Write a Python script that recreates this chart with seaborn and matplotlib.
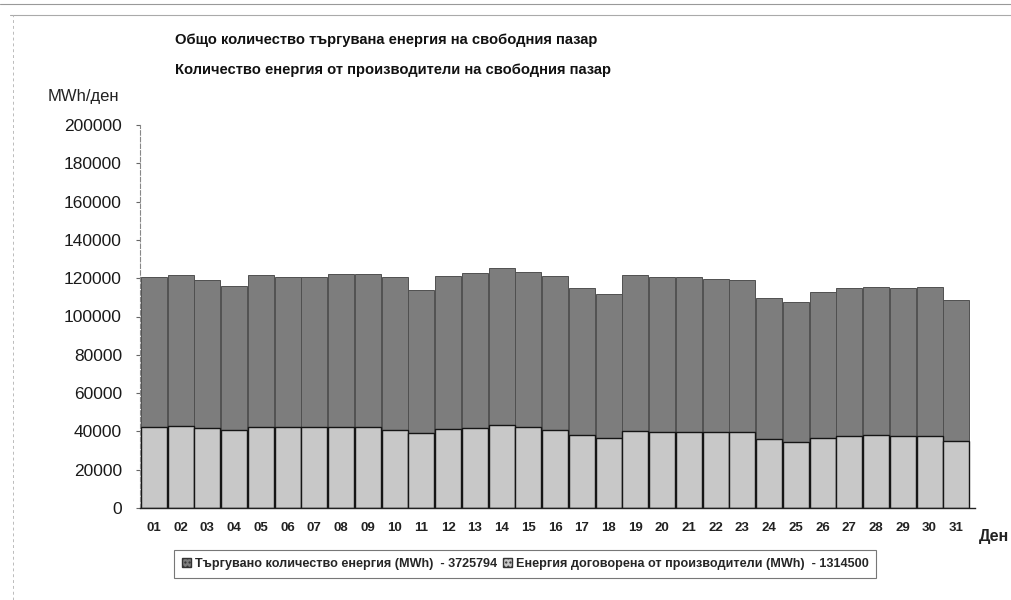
import matplotlib
matplotlib.use("Agg")
import matplotlib.pyplot as plt
import matplotlib.patches as mpatches
import pandas as pd
import seaborn as sns

# daily values (MWh/day)
days = [f"{d:02d}" for d in range(1, 32)]
traded_total = [120500, 121500, 119000, 115900, 121500, 120800, 120800, 122200,
                122000, 120500, 113800, 121100, 122500, 125200, 123400, 121100,
                115000, 111600, 121500, 120800, 120500, 119600, 119000, 109500,
                107400, 113000, 115000, 115600, 115000, 115200, 108600]
producers = [42500, 43000, 41600, 40700, 42500, 42500, 42500, 42500,
             42100, 40700, 39000, 41100, 41600, 43300, 42500, 40700,
             38300, 36700, 40200, 39800, 39800, 39500, 39500, 35900,
             34500, 36400, 37800, 38100, 37800, 37800, 35000]
yticks = list(range(0, 200001, 20000))

title_lines = ["Общо количество търгувана енергия на свободния пазар",
               "Количество енергия от производители на свободния пазар"]
legend_labels = ["Търгувано количество енергия (MWh)  - 3725794",
                 "Енергия договорена от производители (MWh)  - 1314500"]

dark = "#7d7d7d"
light = "#c8c8c8"

sns.set_style("white")
plt.rcParams["font.family"] = ["Liberation Sans", "DejaVu Sans"]

df = pd.DataFrame({"day": days, "total": traded_total, "prod": producers})

fig = plt.figure(figsize=(10.11, 6), dpi=100)
ax = fig.add_axes([140 / 1011, 1 - 508 / 600, 835 / 1011, 383 / 600])

sns.barplot(data=df, x="day", y="total", color=dark, width=0.97,
            edgecolor="#505050", linewidth=0.7, saturation=1, ax=ax)
sns.barplot(data=df, x="day", y="prod", color=light, width=0.97,
            edgecolor="#151515", linewidth=1.0, saturation=1, ax=ax)

ax.set_xlim(-0.52, 30.7)
ax.set_ylim(0, 200000)
ax.set_yticks(yticks)
ax.set_yticklabels([str(v) for v in yticks], fontsize=12.5, color="#1a1a1a")
ax.tick_params(axis="y", length=3, width=0.8, color="#666666", pad=10, left=True)
ax.tick_params(axis="x", length=0, pad=10)
for lbl in ax.get_xticklabels():
    lbl.set_fontsize(9.5)
    lbl.set_fontweight("bold")
    lbl.set_color("#222222")
ax.set_xlabel("")
ax.set_ylabel("")
for s in ["top", "right"]:
    ax.spines[s].set_visible(False)
ax.spines["left"].set_color("#888888")
ax.spines["left"].set_linestyle((0, (4, 2)))
ax.spines["left"].set_linewidth(0.8)
ax.spines["bottom"].set_color("#222222")
ax.spines["bottom"].set_linewidth(1.0)

fig.text(175 / 1011, 1 - 40 / 600, title_lines[0], fontsize=10.6,
         fontweight="bold", va="center", ha="left", color="#111111")
fig.text(175 / 1011, 1 - 70 / 600, title_lines[1], fontsize=10.6,
         fontweight="bold", va="center", ha="left", color="#111111")
fig.text(48 / 1011, 1 - 97 / 600, "MWh/ден", fontsize=12, va="center",
         ha="left", color="#222222")
fig.text(1009 / 1011, 1 - 537 / 600, "Ден", fontsize=11.5, fontweight="bold",
         va="center", ha="right", color="#222222")

# scan frame lines
fig.add_artist(plt.Line2D([0, 1], [1 - 4 / 600, 1 - 4 / 600], color="#999999", lw=0.8))
fig.add_artist(plt.Line2D([0.01, 1], [1 - 15 / 600, 1 - 15 / 600], color="#aaaaaa", lw=0.8))
fig.add_artist(plt.Line2D([13 / 1011, 13 / 1011], [0, 1 - 15 / 600], color="#bbbbbb",
                          lw=0.7, ls=(0, (3, 3))))

handles = [mpatches.Patch(facecolor=dark, edgecolor="#333333", hatch="...."),
           mpatches.Patch(facecolor=light, edgecolor="#333333", hatch="....")]
leg = fig.legend(handles, legend_labels, loc="center left",
                 bbox_to_anchor=(168 / 1011, 1 - 564 / 600), ncol=2,
                 frameon=True, fancybox=False, handlelength=0.7, handleheight=0.7,
                 handletextpad=0.3, columnspacing=0.5, borderpad=0.6,
                 prop={"size": 9.1, "weight": "bold"})
leg.get_frame().set_edgecolor("#555555")
leg.get_frame().set_linewidth(0.8)

fig.savefig("out.png", dpi=100, facecolor="white")
